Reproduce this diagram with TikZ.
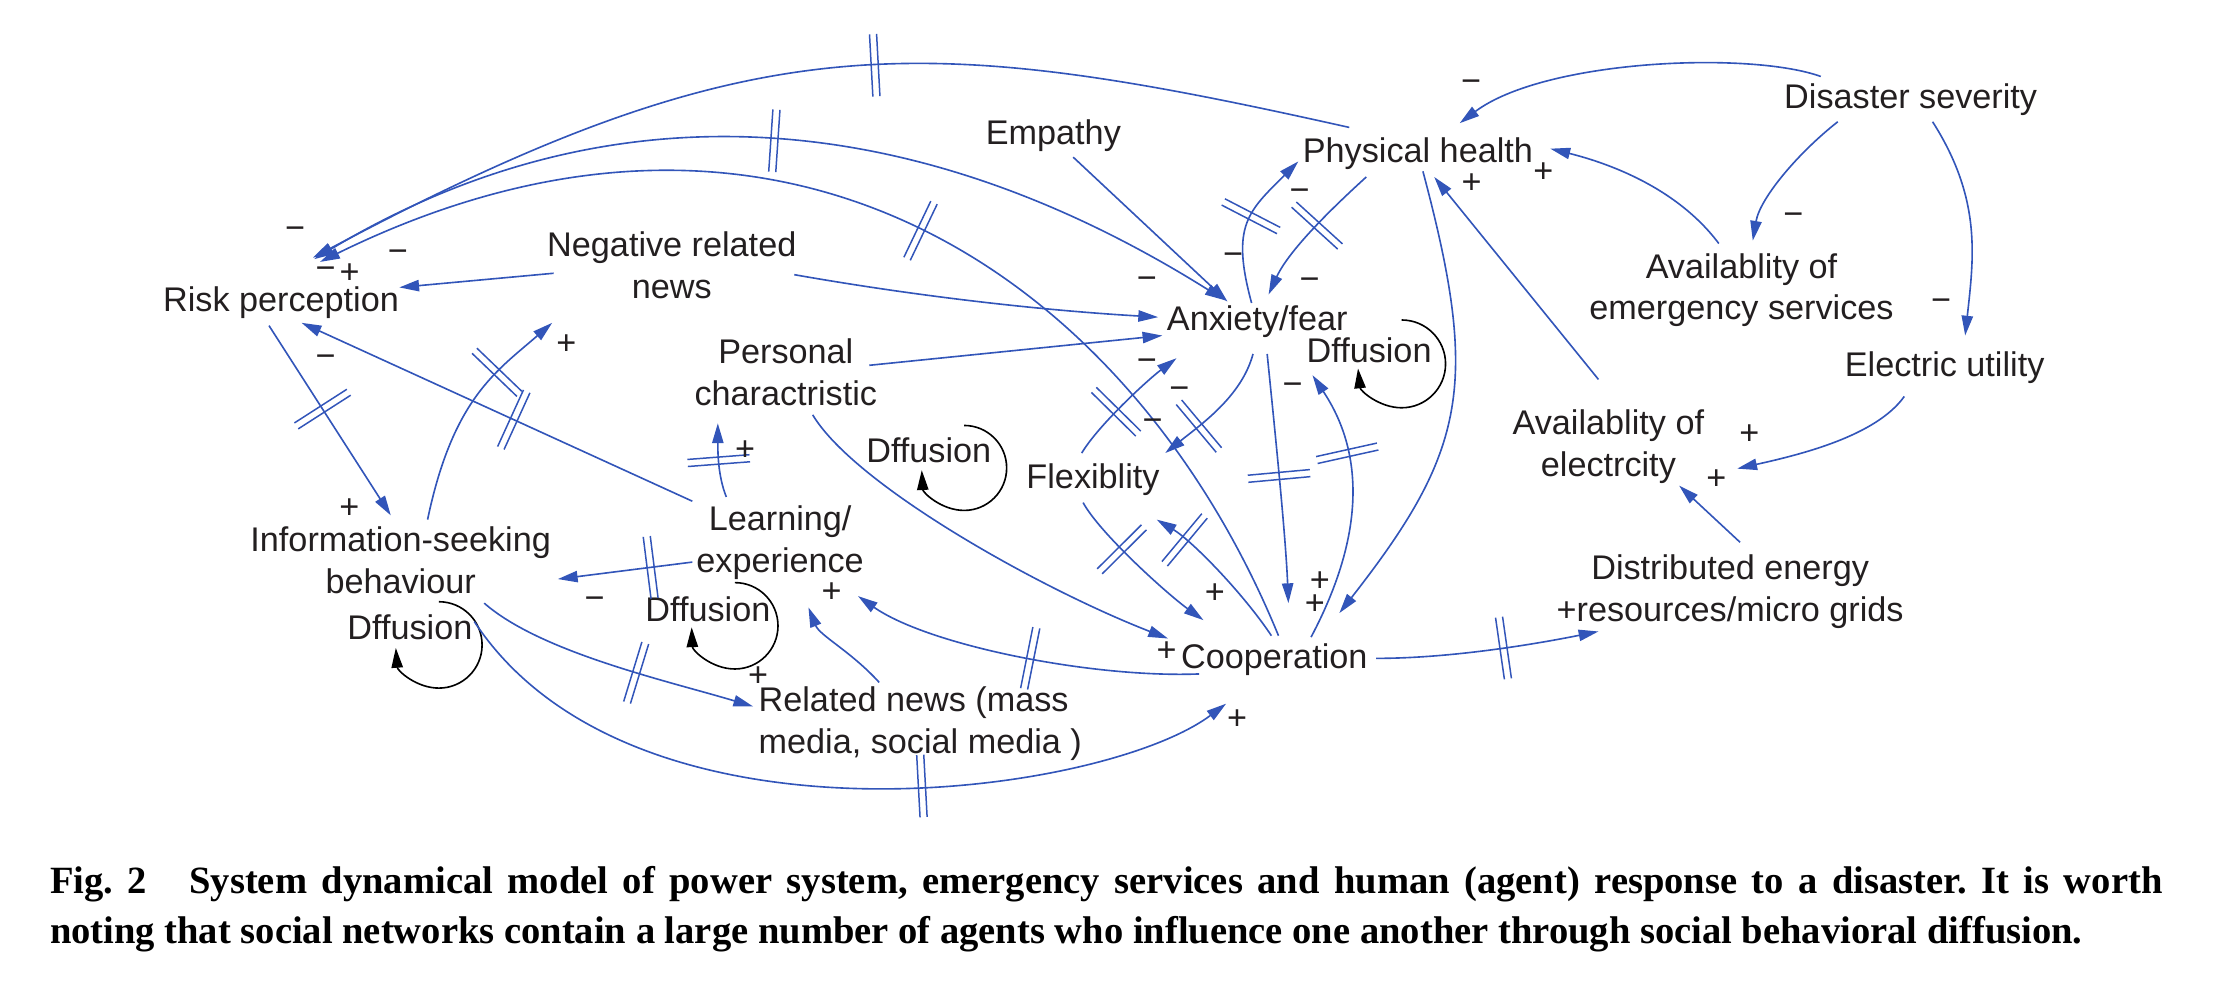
\documentclass[tikz,border=0pt]{standalone}
\usepackage{fontspec}
\setmainfont{Liberation Sans}
\newfontfamily\captionserif{Liberation Serif}
\usetikzlibrary{arrows.meta,decorations.markings}
\definecolor{linkblue}{RGB}{50,85,185}
\definecolor{textgray}{RGB}{35,31,32}
\tikzset{
  var/.style={inner sep=0pt, align=center, text=textgray, font=\fontsize{13.75}{16.8}\selectfont},
  sign/.style={inner sep=0pt, text=textgray, font=\fontsize{13.75}{16.8}\selectfont},
  link/.style={draw=linkblue, line width=0.65pt, ->},
  delay/.style={postaction={decorate, decoration={markings, mark=at position #1 with {\draw[linkblue, line width=0.6pt, -] (-2.5,-22) -- (-2.5,22) (2.5,-22) -- (2.5,22);}}}},
  spread/.style={draw=black, line width=0.65pt, ->},
  capstyle/.style={anchor=base west, inner sep=0pt, font=\captionserif\bfseries\fontsize{15.5}{20}\selectfont\frenchspacing},
}
\begin{document}
\begin{tikzpicture}[x=0.2mm, y=-0.2mm, >={Triangle[length=2.8mm,width=1.6mm]}]
\useasboundingbox (0,0) rectangle (1568,699);

% variables
\node[var] (risk) at (198.5,213.7) {Risk perception};
\node[var] (negnews) at (474.5,187.4) {Negative related\\news};
\node[var] (empathy) at (744,95.7) {Empathy};
\node[var] (phys) at (1001.5,108.7) {Physical health};
\node[var] (disaster) at (1349.5,70.7) {Disaster severity};
\node[var] (avem) at (1230,205) {Availablity of\\emergency services};
\node[var] (elec) at (1373.5,259.7) {Electric utility};
\node[var] (anx) at (888,227.2) {Anxiety/fear};
\node[var] (pers) at (555,262.9) {Personal\\charactristic};
\node[var] (learn) at (551,383) {Learning/\\experience};
\node[var] (flex) at (772,338.7) {Flexiblity};
\node[var] (coop) at (900,465.7) {Cooperation};
\node[var] (info) at (283,395.5) {Information-seeking\\behaviour};
\node[var, anchor=west, align=left] (relnews) at (535.5,511) {Related news (mass\\media, social media )};
\node[var] (dist) at (1222,418) {Distributed energy\\+resources/micro grids};
\node[var] (avelec) at (1136,315.5) {Availablity of\\electrcity};

% diffusion loops
\node[var] (diffA) at (967,247.2) {Dffusion};
\node[var] (diffM) at (656,318.2) {Dffusion};
\node[var] (diffL) at (500,430.2) {Dffusion};
\node[var] (diffI) at (289.5,443.2) {Dffusion};
\draw[spread] ([shift={(23,-21.2)}]diffA.center) arc[start angle=-90, end angle=174, radius=31];
\draw[spread] ([shift={(25,-17.7)}]diffM.center) arc[start angle=-90, end angle=177, radius=30];
\draw[spread] ([shift={(19,-18.7)}]diffL.center) arc[start angle=-90, end angle=178, radius=30.5];
\draw[spread] ([shift={(20.5,-18.2)}]diffI.center) arc[start angle=-90, end angle=176, radius=30.5];

% long arcs into risk perception
\draw[link, delay=0.445] ([shift={(-48.5,-18.7)}]phys.center) .. controls +(-304,-68) and +(312,-166) .. ([shift={(22.5,-31.7)}]risk.center);
\draw[link, <->, delay=0.5] ([shift={(23.5,-30.7)}]risk.center) .. controls +(196,-117.6) and +(-233.4,-146.3) .. ([shift={(-23,-15.2)}]anx.center);
\draw[link, delay=0.47] ([shift={(3,-16.7)}]coop.center) .. controls +(-102,-249) and +(330,-162) .. ([shift={(27.5,-28.7)}]risk.center);

% left part
\draw[link] ([shift={(-83.5,5.6)}]negnews.center) -- ([shift={(83.5,-10.7)}]risk.center);
\draw[link] ([shift={(86.5,6.6)}]negnews.center) .. controls +(85,15) and +(-85,-5) .. ([shift={(-70,-3.2)}]anx.center);
\draw[link] ([shift={(14,15.3)}]empathy.center) -- ([shift={(-21,-14.2)}]anx.center);
\draw[link] ([shift={(59,-4.9)}]pers.center) -- ([shift={(-67,9.8)}]anx.center);
\draw[link, delay=0.5] ([shift={(-38,-32)}]learn.center) .. controls +(-6,-15) and +(0,20) .. ([shift={(-48,36.1)}]pers.center);
\draw[link, delay=0.457] ([shift={(-62,-29)}]learn.center) -- ([shift={(14.5,14.3)}]risk.center);
\draw[link, delay=0.69] ([shift={(19,-28.5)}]info.center) .. controls +(18,-86) and +(-39,34) .. ([shift={(-84.5,40.6)}]negnews.center);
\draw[link, delay=0.44] ([shift={(-8.5,16.3)}]risk.center) -- ([shift={(-7,-31.5)}]info.center);
\draw[link, delay=0.31] ([shift={(-62,14)}]learn.center) -- ([shift={(111,13.5)}]info.center);
\draw[link, delay=0.58] ([shift={(59,30.5)}]info.center) .. controls +(40,35) and +(-60,-18) .. ([shift={(-3.5,-12)}]relnews.west);
\draw[link, delay=0.61] ([shift={(52,43.5)}]info.center) .. controls +(111.9,169.8) and +(-86.6,64.9) .. ([shift={(-34,31.3)}]coop.center);
\draw[link, delay=0.48] ([shift={(-53,10.3)}]coop.center) .. controls +(-75,3) and +(50,35) .. ([shift={(55,38)}]learn.center);
\draw[link] ([shift={(85.5,-29)}]relnews.west) .. controls +(-20,-22) and +(8,20) .. ([shift={(20,46)}]learn.center);
\draw[link] ([shift={(19,30.1)}]pers.center) .. controls +(30,50) and +(-90,-35) .. ([shift={(-75,-14.7)}]coop.center);

% anxiety, flexibility, cooperation
\draw[link, delay=0.55] ([shift={(-4,-13.2)}]anx.center) .. controls +(-15,-55) and +(-35,35) .. ([shift={(-84.5,5.3)}]phys.center);
\draw[link, delay=0.45] ([shift={(-36.5,16.3)}]phys.center) .. controls +(-22,20) and +(14.7,-32) .. ([shift={(8,-19.2)}]anx.center);
\draw[link, delay=0.68] ([shift={(-3,22.8)}]anx.center) .. controls +(-8,30) and +(25,-20) .. ([shift={(51,-18.7)}]flex.center);
\draw[link, delay=0.4] ([shift={(-8,-18.7)}]flex.center) .. controls +(12,-20) and +(-20,15) .. ([shift={(-57,25.8)}]anx.center);
\draw[link, delay=0.49] ([shift={(7,22.8)}]anx.center) .. controls +(4,40) and +(-2,-50) .. ([shift={(10,-39.7)}]coop.center);
\draw[link, delay=0.69] ([shift={(26,-15.7)}]coop.center) .. controls +(45,-85) and +(30,45) .. ([shift={(39,37.8)}]anx.center);
\draw[link, delay=0.79] ([shift={(-2,-16.7)}]coop.center) .. controls +(-20,-30) and +(25,15) .. ([shift={(45,28.3)}]flex.center);
\draw[link, delay=0.36] ([shift={(-7,16.3)}]flex.center) .. controls +(12,22) and +(-25,-18) .. ([shift={(-50,-27.7)}]coop.center);
\draw[link] ([shift={(3.5,12.3)}]phys.center) .. controls +(40,150) and +(90,-115) .. ([shift={(46,-32.7)}]coop.center);

% right part
\draw[link] ([shift={(-7,-47.5)}]avelec.center) -- ([shift={(11.5,16.3)}]phys.center);
\draw[link] ([shift={(-16,-33)}]avem.center) .. controls +(-30,-40) and +(40,10) .. ([shift={(93.5,-3.7)}]phys.center);
\draw[link] ([shift={(-63.5,-16.7)}]disaster.center) .. controls +(-50,-18) and +(60,-45) .. ([shift={(29.5,-21.7)}]phys.center);
\draw[link] ([shift={(-51.5,15.3)}]disaster.center) .. controls +(-28,22) and +(5,-30) .. ([shift={(8,-35)}]avem.center);
\draw[link] ([shift={(15.5,15.3)}]disaster.center) .. controls +(35,55) and +(6,-55) .. ([shift={(14.5,-22.7)}]elec.center);
\draw[link] ([shift={(-28.5,20.3)}]elec.center) .. controls +(-20,28) and +(45,-10) .. ([shift={(91,15.5)}]avelec.center);
\draw[link] ([shift={(7,-35)}]dist.center) -- ([shift={(50,27.5)}]avelec.center);
\draw[link, delay=0.57] ([shift={(72,-0.7)}]coop.center) .. controls +(50,0) and +(-50,10) .. ([shift={(-93,28)}]dist.center);

% polarity signs
\node[sign] (sg1) at (208.4,164.8) {−};
\node[sign] (sg2) at (230,193) {−};
\node[sign] (sg3) at (247,193) {+};
\node[sign] (sg4) at (281,181) {−};
\node[sign] (sg5) at (230,255.4) {−};
\node[sign] (sg6) at (400,243.7) {+};
\node[sign] (sg7) at (246.7,359) {+};
\node[sign] (sg8) at (420,426) {−};
\node[sign] (sg9) at (526.3,318.3) {+};
\node[sign] (sg10) at (587.4,418.6) {+};
\node[sign] (sg11) at (535.5,478) {+};
\node[sign] (sg12) at (873.7,508.5) {+};
\node[sign] (sg13) at (824,460) {+};
\node[sign] (sg14) at (858,419) {+};
\node[sign] (sg15) at (932.3,410.8) {+};
\node[sign] (sg16) at (928.7,427.3) {+};
\node[sign] (sg17) at (810,200) {−};
\node[sign] (sg18) at (871,183) {−};
\node[sign] (sg19) at (925,201) {−};
\node[sign] (sg20) at (918,138) {−};
\node[sign] (sg21) at (810,258) {−};
\node[sign] (sg22) at (833,278) {−};
\node[sign] (sg23) at (814,300) {−};
\node[sign] (sg24) at (913,275) {−};
\node[sign] (sg25) at (1039.4,129.5) {+};
\node[sign] (sg26) at (1090,122) {+};
\node[sign] (sg27) at (1039,61) {−};
\node[sign] (sg28) at (1266.6,154.9) {−};
\node[sign] (sg29) at (1371,215.4) {−};
\node[sign] (sg30) at (1235.5,307.2) {+};
\node[sign] (sg31) at (1212.2,339) {+};

% caption
\node[capstyle] (capline1) at (35,631.4) {\makebox[298.4mm][s]{Fig.~2\hspace{1.1em}System dynamical model of power system, emergency services and human (agent) response to a disaster. It is worth}};
\node[capstyle] (capline2) at (35,666.7) {noting that social networks contain a large number of agents who influence one another through social behavioral diffusion.};
\end{tikzpicture}
\end{document}
